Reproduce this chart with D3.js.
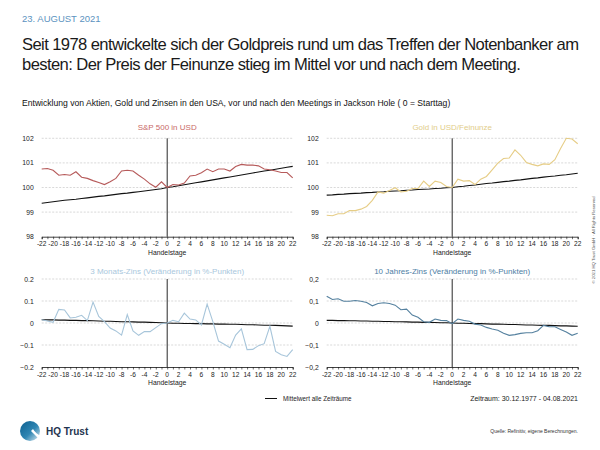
<!DOCTYPE html>
<html><head><meta charset="utf-8">
<script src="https://cdn.jsdelivr.net/npm/d3@7"></script>
<style>body{margin:0;background:#fff}svg{display:block;font-family:"Liberation Sans",Arial,sans-serif}</style>
</head><body><svg id="c" width="600" height="450"></svg>
<script>
const days = d3.range(-22, 23);
const xTicks = d3.range(-22, 23, 2);
const topTicks = [98, 99, 100, 101, 102];
const botTicks = [-0.2, -0.1, 0, 0.1, 0.2];

const sp = [100.75,100.77,100.7,100.5,100.53,100.5,100.64,100.42,100.37,100.28,100.2,100.12,100.23,100.37,100.67,100.7,100.67,100.5,100.34,100.15,100.01,100.23,100.0,100.12,100.1,100.18,100.47,100.5,100.6,100.75,100.64,100.75,100.75,100.67,100.85,100.94,100.91,100.91,100.88,100.75,100.72,100.67,100.61,100.61,100.39];
const spMean = [99.36,99.39,99.42,99.45,99.48,99.5,99.52,99.55,99.58,99.61,99.64,99.66,99.69,99.72,99.75,99.77,99.8,99.83,99.86,99.89,99.92,99.95,100.0,100.03,100.07,100.11,100.15,100.19,100.23,100.27,100.31,100.35,100.39,100.43,100.47,100.51,100.55,100.59,100.63,100.67,100.7,100.74,100.78,100.82,100.86];
const gold = [98.87,98.85,98.93,98.93,99.06,99.06,99.12,99.23,99.48,99.82,99.77,99.88,99.99,99.82,99.85,99.96,99.96,100.26,100.04,100.26,100.2,100.04,100.0,100.34,100.26,100.28,100.12,100.34,100.45,100.72,100.99,101.18,101.2,101.53,101.31,101.02,100.94,100.88,100.96,100.94,101.13,101.59,102.0,101.97,101.78];
const goldMean = [99.69,99.7,99.72,99.73,99.75,99.76,99.77,99.79,99.8,99.82,99.83,99.85,99.86,99.87,99.89,99.9,99.92,99.93,99.94,99.96,99.97,99.99,100.0,100.03,100.05,100.08,100.1,100.13,100.16,100.18,100.21,100.24,100.26,100.29,100.31,100.34,100.37,100.39,100.42,100.45,100.47,100.5,100.52,100.55,100.58];
const m3 = [0.015,0.009,0.003,0.062,0.059,0.023,0.026,0.035,0.011,0.095,0.03,0.006,-0.023,-0.036,-0.055,0.038,-0.036,-0.056,-0.039,-0.039,-0.021,-0.003,0,0.012,0.006,0.045,0.018,0.014,-0.009,0.086,0.006,-0.082,-0.097,-0.112,-0.055,-0.027,-0.121,-0.12,-0.103,-0.094,-0.015,-0.129,-0.144,-0.152,-0.121];
const m3Mean = [0.015,0.014,0.014,0.013,0.013,0.012,0.012,0.011,0.011,0.01,0.009,0.008,0.008,0.007,0.006,0.006,0.005,0.004,0.004,0.003,0.002,0.001,0,-0.001,-0.001,-0.002,-0.002,-0.003,-0.003,-0.004,-0.004,-0.005,-0.005,-0.006,-0.006,-0.007,-0.008,-0.008,-0.009,-0.01,-0.01,-0.011,-0.012,-0.013,-0.014];
const y10 = [0.122,0.107,0.11,0.099,0.099,0.102,0.099,0.093,0.078,0.089,0.092,0.089,0.081,0.06,0.063,0.036,0.026,0.006,0.003,0.018,0.012,0.011,-0.003,0.018,0.012,0.008,-0.005,-0.009,-0.02,-0.027,-0.033,-0.047,-0.056,-0.053,-0.047,-0.044,-0.044,-0.035,-0.011,-0.017,-0.017,-0.029,-0.041,-0.056,-0.047];
const y10Mean = [0.012,0.012,0.011,0.011,0.01,0.01,0.009,0.009,0.008,0.008,0.007,0.007,0.006,0.006,0.005,0.004,0.004,0.003,0.003,0.002,0.001,0.001,0,-0.001,-0.001,-0.002,-0.003,-0.003,-0.004,-0.005,-0.005,-0.006,-0.007,-0.007,-0.008,-0.009,-0.009,-0.01,-0.011,-0.011,-0.012,-0.013,-0.013,-0.014,-0.015];

const svg = d3.select("#c");

svg.append("text").attr("x",22).attr("y",22).attr("font-size",9.5).attr("fill","#5b93c0").text("23. AUGUST 2021");
const tl = ["Seit 1978 entwickelte sich der Goldpreis rund um das Treffen der Notenbanker am",
            "besten: Der Preis der Feinunze stieg im Mittel vor und nach dem Meeting."];
const tfs = 16.6;
const t1 = svg.append("text").attr("x",22).attr("y",50).attr("font-size",tfs).attr("fill","#1a1a1a").text(tl[0]);
const t2 = svg.append("text").attr("x",22).attr("y",70).attr("font-size",tfs).attr("fill","#1a1a1a").text(tl[1]);
const w1 = t1.node().getComputedTextLength();
let ls = (556 - w1) / (tl[0].length - 1);
ls = Math.max(-0.6, Math.min(0.2, ls));
t1.attr("letter-spacing", ls);
t2.attr("letter-spacing", ls);
svg.append("text").attr("x",22).attr("y",106).attr("font-size",8.6).attr("fill","#111")
  .text("Entwicklung von Aktien, Gold und Zinsen in den USA, vor und nach den Meetings in Jackson Hole ( 0 = Starttag)");

const panels = [
  {title:"S&P 500 in USD", tcol:"#c96a67", col:"#b65a5a", data:sp, mean:spMean, x0:41.7, x1:292.7, y0:236.7, y1:138.3, dom:[98,102], ticks:topTicks, fmt:d=>String(d), ty:129.5},
  {title:"Gold in USD/Feinunze", tcol:"#e2cd8a", col:"#e6cd86", data:gold, mean:goldMean, x0:326.7, x1:577.7, y0:236.7, y1:138.3, dom:[98,102], ticks:topTicks, fmt:d=>String(d), ty:129.5},
  {title:"3 Monats-Zins (Veränderung in %-Punkten)", tcol:"#a9c7dd", col:"#a7c5da", data:m3, mean:m3Mean, x0:41.7, x1:292.7, y0:367, y1:279, dom:[-0.2,0.2], ticks:botTicks, fmt:d=>d===0?"0":d3.format(".1f")(d), ty:273.5},
  {title:"10 Jahres-Zins  (Veränderung in %-Punkten)", tcol:"#4d7ea4", col:"#55819f", data:y10, mean:y10Mean, x0:326.7, x1:577.7, y0:367, y1:279, dom:[-0.2,0.2], ticks:botTicks, fmt:d=>d===0?"0":d3.format(".1f")(d).replace(".",","), ty:273.5}
];

panels.forEach(p=>{
  const x = d3.scaleLinear().domain([-22,22]).range([p.x0,p.x1]);
  const y = d3.scaleLinear().domain(p.dom).range([p.y0,p.y1]);
  const g = svg.append("g");
  g.append("text").attr("x",(p.x0+p.x1)/2).attr("y",p.ty).attr("text-anchor","middle").attr("font-size",8).attr("fill",p.tcol).text(p.title);
  g.selectAll(".gl").data(p.ticks.slice(1)).enter().append("line")
    .attr("x1",p.x0).attr("x2",p.x1).attr("y1",d=>y(d)).attr("y2",d=>y(d))
    .attr("stroke","#c8c8c8").attr("stroke-width",0.7).attr("stroke-dasharray","2,1.5");
  g.selectAll(".yl").data(p.ticks).enter().append("text")
    .attr("x",p.x0-8).attr("y",d=>y(d)+2.5).attr("text-anchor","end").attr("font-size",6.8).attr("fill","#222").text(p.fmt);
  const ax = g.append("g").attr("transform",`translate(0,${p.y0})`)
    .call(d3.axisBottom(x).tickValues(days).tickSize(2.5).tickFormat(""));
  ax.select(".domain").attr("stroke","#111").attr("stroke-width",0.8);
  ax.selectAll(".tick line").attr("stroke","#111").attr("stroke-width",0.6);
  g.selectAll(".xl").data(xTicks).enter().append("text")
    .attr("x",d=>x(d)).attr("y",p.y0+9.5).attr("text-anchor","middle").attr("font-size",6.6).attr("fill","#222").text(d=>String(d));
  g.append("text").attr("x",x(0)).attr("y",p.y0+18).attr("text-anchor","middle").attr("font-size",6.8).attr("fill","#222").text("Handelstage");
  g.append("line").attr("x1",x(0)).attr("x2",x(0)).attr("y1",y(p.dom[1])).attr("y2",p.y0).attr("stroke","#111").attr("stroke-width",0.9);
  const line = d3.line().x((d,i)=>x(days[i])).y(d=>y(d));
  g.append("path").datum(p.mean).attr("d",line).attr("fill","none").attr("stroke","#111").attr("stroke-width",1.1);
  g.append("path").datum(p.data).attr("d",line).attr("fill","none").attr("stroke",p.col).attr("stroke-width",1.1);
});

svg.append("line").attr("x1",265).attr("x2",277).attr("y1",398.5).attr("y2",398.5).attr("stroke","#111").attr("stroke-width",1);
svg.append("text").attr("x",283).attr("y",401).attr("font-size",6.3).attr("fill","#222").text("Mittelwert alle Zeiträume");
svg.append("text").attr("x",578).attr("y",401).attr("text-anchor","end").attr("font-size",7).attr("fill","#222").text("Zeitraum: 30.12.1977 - 04.08.2021");

const defs = svg.append("defs");
const lg = defs.append("linearGradient").attr("id","lg").attr("x1","0").attr("y1","0").attr("x2","1").attr("y2","1");
lg.append("stop").attr("offset","0").attr("stop-color","#0d5f8f");
lg.append("stop").attr("offset","0.55").attr("stop-color","#2f86b3");
lg.append("stop").attr("offset","1").attr("stop-color","#e3eef4");
svg.append("circle").attr("cx",30).attr("cy",431).attr("r",10).attr("fill","url(#lg)");
svg.append("path").attr("d","M31,431 L41,441 L41,436 Q36,434 33,429 Z").attr("fill","#fff");
svg.append("text").attr("x",46).attr("y",435).attr("font-size",10).attr("font-weight","bold").attr("fill","#1f3550").text("HQ Trust");
svg.append("text").attr("x",578).attr("y",433).attr("text-anchor","end").attr("font-size",5).attr("fill","#333").text("Quelle: Refinitiv, eigene Berechnungen.");

svg.append("text").attr("transform","translate(595,240) rotate(-90)").attr("text-anchor","middle").attr("font-size",4.3).attr("fill","#555")
  .text("© 2021 HQ Trust GmbH · All Rights Reserved");
</script></body></html>
